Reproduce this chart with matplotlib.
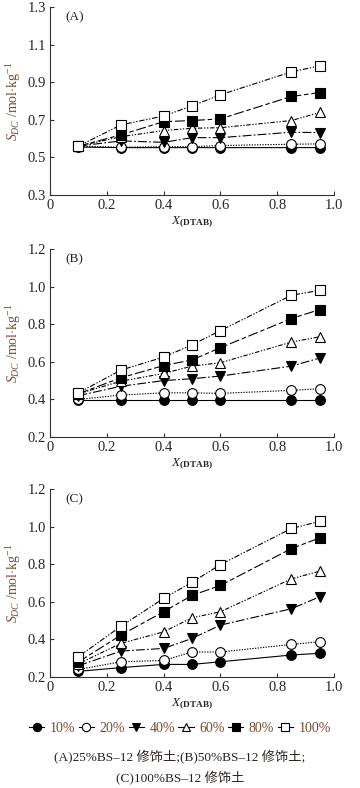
import matplotlib
matplotlib.use("Agg")
import matplotlib.pyplot as plt
from matplotlib.lines import Line2D

plt.rcParams['font.family'] = ['Liberation Serif', 'Noto Sans CJK SC', 'DejaVu Sans']
plt.rcParams['mathtext.fontset'] = 'custom'
plt.rcParams['mathtext.rm'] = 'Liberation Serif'
plt.rcParams['mathtext.it'] = 'Liberation Serif:italic'
plt.rcParams['mathtext.bf'] = 'Liberation Serif:bold'

x = [0.1, 0.25, 0.4, 0.5, 0.6, 0.85, 0.95]
series_labels = ['10%', '20%', '40%', '60%', '80%', '100%']

panel_a = {
    '10%':  [0.555, 0.552, 0.552, 0.552, 0.552, 0.552, 0.552],
    '20%':  [0.560, 0.554, 0.557, 0.557, 0.563, 0.570, 0.572],
    '40%':  [0.560, 0.588, 0.580, 0.605, 0.605, 0.634, 0.632],
    '60%':  [0.560, 0.610, 0.643, 0.655, 0.658, 0.696, 0.739],
    '80%':  [0.560, 0.620, 0.690, 0.696, 0.705, 0.824, 0.845],
    '100%': [0.560, 0.673, 0.720, 0.774, 0.833, 0.955, 0.987],
}
panel_b = {
    '10%':  [0.395, 0.395, 0.395, 0.395, 0.395, 0.395, 0.395],
    '20%':  [0.400, 0.423, 0.435, 0.435, 0.432, 0.448, 0.457],
    '40%':  [0.420, 0.470, 0.500, 0.510, 0.524, 0.577, 0.620],
    '60%':  [0.430, 0.497, 0.538, 0.577, 0.595, 0.705, 0.733],
    '80%':  [0.430, 0.515, 0.580, 0.610, 0.675, 0.830, 0.878],
    '100%': [0.435, 0.556, 0.625, 0.690, 0.766, 0.954, 0.980],
}
panel_c = {
    '10%':  [0.230, 0.250, 0.267, 0.267, 0.281, 0.317, 0.326],
    '20%':  [0.240, 0.281, 0.288, 0.333, 0.333, 0.373, 0.388],
    '40%':  [0.260, 0.338, 0.352, 0.405, 0.476, 0.563, 0.627],
    '60%':  [0.270, 0.379, 0.440, 0.515, 0.547, 0.722, 0.763],
    '80%':  [0.280, 0.423, 0.547, 0.634, 0.687, 0.883, 0.940],
    '100%': [0.308, 0.470, 0.618, 0.704, 0.798, 0.990, 1.028],
}
panel_names = ['(A)', '(B)', '(C)']
yticks_a = [0.3, 0.5, 0.7, 0.9, 1.1, 1.3]
yticks_bc = [0.2, 0.4, 0.6, 0.8, 1.0, 1.2]
xticks = [0, 0.2, 0.4, 0.6, 0.8, 1.0]
caption = '(A)25%BS\u201312 修饰土;(B)50%BS\u201312 修饰土;\n(C)100%BS\u201312 修饰土'

styles = {
    '10%':  dict(marker='o', mfc='black', ls='-'),
    '20%':  dict(marker='o', mfc='white', ls=(0, (1.2, 1.2))),
    '40%':  dict(marker='v', mfc='black', ls=(0, (8, 2, 1.5, 2))),
    '60%':  dict(marker='^', mfc='white', ls=(0, (4, 1.5, 1.2, 1.5, 1.2, 1.5))),
    '80%':  dict(marker='s', mfc='black', ls=(0, (9, 2.5, 4, 2.5))),
    '100%': dict(marker='s', mfc='white', ls=(0, (5, 1.5, 1.2, 1.5, 1.2, 1.5))),
}

brown = '#7a4a2e'
tickc = '#2a2320'

fig = plt.figure(figsize=(3.6, 7.88), dpi=100)
W, H = 360, 788
boxes = [(7, 195), (249, 437), (489, 677)]
datas = [panel_a, panel_b, panel_c]
ylims = [(0.3, 1.3), (0.2, 1.2), (0.2, 1.2)]
yts = [yticks_a, yticks_bc, yticks_bc]

for i, ((top, bot), data) in enumerate(zip(boxes, datas)):
    ax = fig.add_axes([50 / W, 1 - bot / H, 284 / W, (bot - top) / H])
    for lab in series_labels:
        st = styles[lab]
        ax.plot(x, data[lab], color='black', lw=0.8, ls=st['ls'],
                marker=st['marker'], mfc=st['mfc'], mec='black', mew=0.8,
                ms=7 if st['marker'] == 'o' else 6.5, clip_on=False)
    ax.set_xlim(0, 1.0)
    ax.set_ylim(*ylims[i])
    ax.set_xticks(xticks)
    ax.set_xticklabels(['0', '0.2', '0.4', '0.6', '0.8', '1.0'])
    ax.set_yticks(yts[i])
    ax.set_yticklabels([f'{v:.1f}' for v in yts[i]])
    ax.spines['top'].set_visible(False)
    ax.spines['right'].set_visible(False)
    for s in ('left', 'bottom'):
        ax.spines[s].set_linewidth(0.8)
        ax.spines[s].set_color('#333333')
    ax.tick_params(direction='in', length=3, width=0.8, labelsize=10.5,
                   colors='#333333', labelcolor=tickc, pad=3)
    ax.text(0.053, 0.947, panel_names[i], transform=ax.transAxes,
            ha='left', va='center', fontsize=9.5, color=tickc)
    ax.set_ylabel(r'$S_{DC}$ /mol$\cdot$kg$^{-1}$', color=brown, fontsize=10, labelpad=3)
    ax.set_xlabel(r'$X_{\mathbf{(DTAB)}}$', fontsize=9.5, color=tickc, labelpad=2)

handles = []
for lab in series_labels:
    st = styles[lab]
    handles.append(Line2D([], [], color='black', lw=0.8, ls='-', marker=st['marker'],
                          mfc=st['mfc'], mec='black', mew=0.8, ms=6))
fig.legend(handles, series_labels, loc='center', bbox_to_anchor=(0.5, 1 - 728 / H),
           ncol=6, frameon=False, handlelength=1.1, handletextpad=0.4,
           columnspacing=0.25, fontsize=10, labelcolor=brown, borderpad=0)

fig.text(0.5, 1 - 768 / H, caption, ha='center', va='center', fontsize=9.5,
         color=tickc, linespacing=1.6)

fig.savefig('out.png', dpi=100)
